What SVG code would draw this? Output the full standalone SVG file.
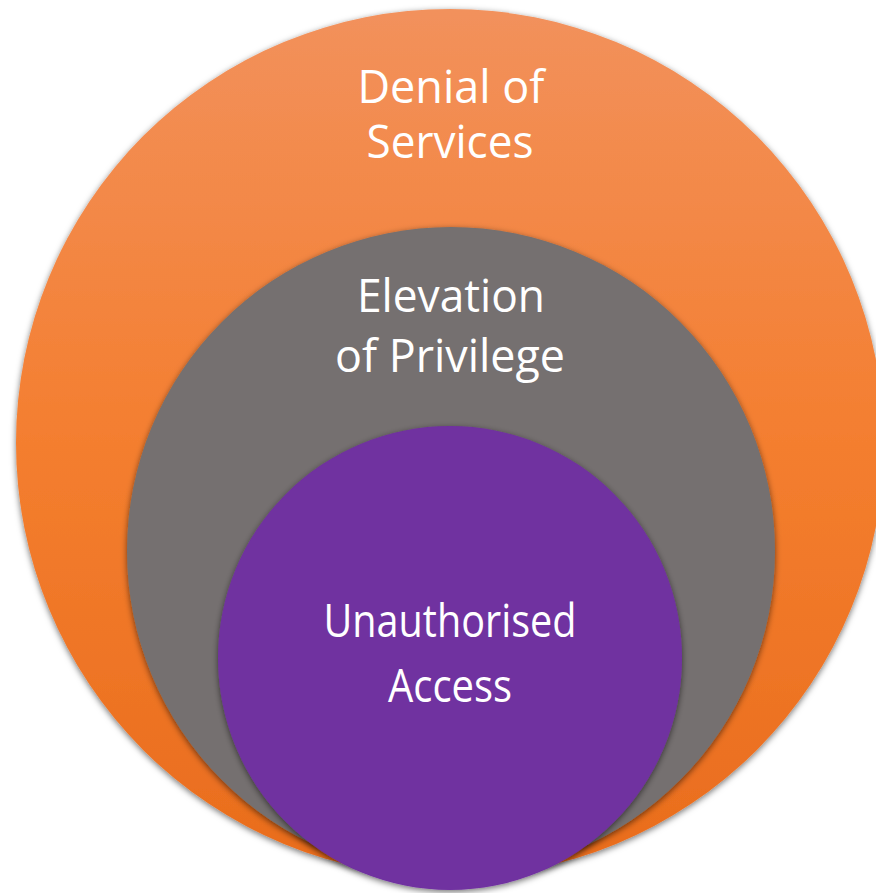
<svg xmlns="http://www.w3.org/2000/svg" width="876" height="893" viewBox="0 0 876 893">
<defs>
<linearGradient id="og" x1="0" y1="0" x2="0" y2="1">
<stop offset="0" stop-color="#F2915C"/>
<stop offset="0.5" stop-color="#F47E2F"/>
<stop offset="1" stop-color="#E96C1C"/>
</linearGradient>
<filter id="sh" x="-10%" y="-10%" width="120%" height="120%">
<feDropShadow dx="0" dy="2" stdDeviation="3" flood-color="#000" flood-opacity="0.55"/>
</filter>
</defs>
<style>
.t{font-family:"Open Sans","Noto Sans",sans-serif;font-size:45px;fill:#fff;text-anchor:middle}
</style>
<g id="denial-of-services">
<circle cx="450" cy="443" r="434" fill="url(#og)" filter="url(#sh)"/>
<text class="t" x="451" y="103" textLength="187" lengthAdjust="spacingAndGlyphs">Denial of</text>
<text class="t" x="450" y="158" textLength="167" lengthAdjust="spacingAndGlyphs">Services</text>
</g>
<g id="elevation-of-privilege">
<circle cx="451" cy="551" r="324" fill="#757070" filter="url(#sh)"/>
<text class="t" x="451" y="312" textLength="188" lengthAdjust="spacingAndGlyphs">Elevation</text>
<text class="t" x="450" y="372" textLength="230" lengthAdjust="spacingAndGlyphs">of Privilege</text>
</g>
<g id="unauthorised-access">
<circle cx="450" cy="658" r="232" fill="#7030A0" filter="url(#sh)"/>
<text class="t" x="450" y="637" textLength="253" lengthAdjust="spacingAndGlyphs">Unauthorised</text>
<text class="t" x="450" y="702" textLength="124" lengthAdjust="spacingAndGlyphs">Access</text>
</g>
<g id="connectors"/>
</svg>
